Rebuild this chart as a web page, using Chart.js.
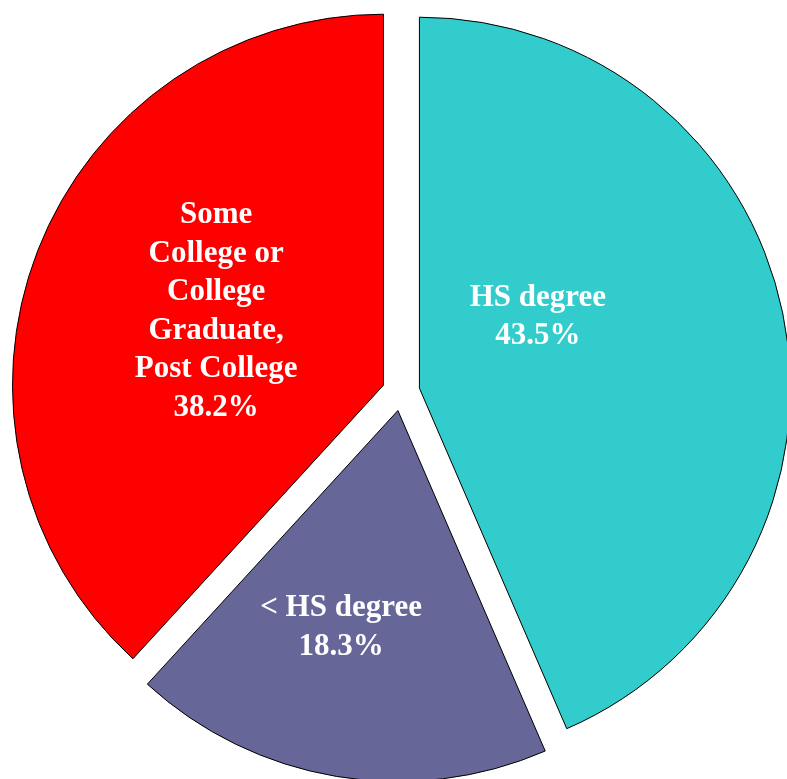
<!DOCTYPE html>
<html>
<head>
<meta charset="utf-8">
<script src="https://cdn.jsdelivr.net/npm/chart.js@4/dist/chart.umd.min.js"></script>
<style>
  html, body { margin: 0; padding: 0; background: #fff; overflow: hidden; }
  canvas { display: block; }
</style>
</head>
<body>
<canvas id="eduChart" width="787" height="779"></canvas>
<script>
// education level shares, clockwise from 12 o'clock
const categories = [
  ['HS degree'],
  ['< HS degree'],
  ['Some', 'College or', 'College', 'Graduate,', 'Post College']
];
const shares = [43.5, 18.3, 38.2];
const sliceColors = ['#33CCCC', '#666699', '#FF0000'];

// pull each slice out along its bisector (done here so radii stay equal)
const explodePlugin = {
  id: 'explode',
  afterDatasetUpdate(chart, args, opts) {
    args.meta.data.forEach(arc => {
      const mid = (arc.startAngle + arc.endAngle) / 2;
      arc.x += Math.cos(mid) * opts.distance;
      arc.y += Math.sin(mid) * opts.distance;
    });
  }
};

// white labels inside the slices: name lines + percentage
const sliceLabels = {
  id: 'sliceLabels',
  afterDatasetsDraw(chart, args, opts) {
    const ctx = chart.ctx;
    const meta = chart.getDatasetMeta(0);
    ctx.save();
    ctx.fillStyle = '#fff';
    ctx.font = opts.font;
    ctx.textAlign = 'center';
    ctx.textBaseline = 'middle';
    meta.data.forEach((arc, i) => {
      const place = opts.placement[i];
      const ang = (arc.startAngle + arc.endAngle) / 2 + place.turn * Math.PI / 180;
      const dist = place.frac * arc.outerRadius;
      const x = arc.x + Math.cos(ang) * dist;
      const y = arc.y + Math.sin(ang) * dist + opts.nudge;
      const lines = categories[i].concat(shares[i].toFixed(1) + '%');
      const top = y - (lines.length - 1) * opts.lineHeight / 2;
      lines.forEach((t, k) => ctx.fillText(t, x, top + k * opts.lineHeight));
    });
    ctx.restore();
  }
};

new Chart(document.getElementById('eduChart'), {
  type: 'pie',
  data: {
    labels: categories,
    datasets: [{
      data: shares,
      backgroundColor: sliceColors,
      borderColor: '#000',
      borderWidth: 1,
      clip: false
    }]
  },
  options: {
    responsive: false,
    animation: false,
    events: [],
    radius: 371,
    layout: { padding: { left: 15, right: 0, top: 5, bottom: 0 } },
    plugins: {
      legend: { display: false },
      tooltip: { enabled: false },
      explode: { distance: 18.8 },
      sliceLabels: {
        font: 'bold 31px "Liberation Serif", "Times New Roman", serif',
        lineHeight: 38.5,
        nudge: 2.5,
        placement: [
          { turn: -20.2, frac: 0.376 },
          { turn: 5.3, frac: 0.598 },
          { turn: 3.3, frac: 0.496 }
        ]
      }
    }
  },
  plugins: [explodePlugin, sliceLabels]
});
</script>
</body>
</html>
